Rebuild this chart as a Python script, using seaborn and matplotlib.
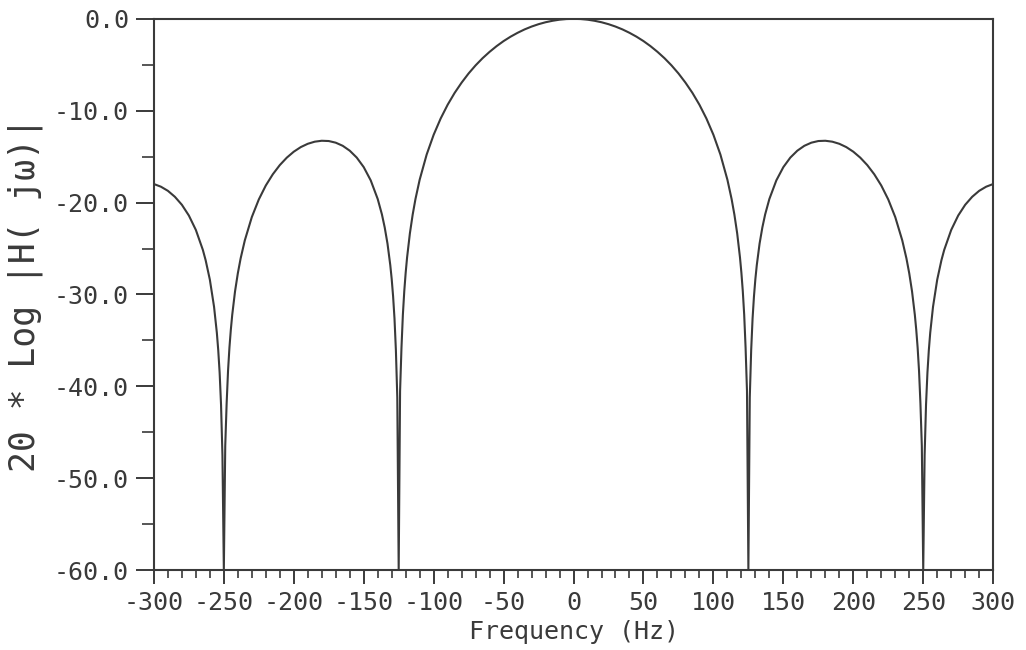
import numpy as np
import pandas as pd
import seaborn as sns
import matplotlib
matplotlib.use("Agg")
import matplotlib.pyplot as plt
from matplotlib.ticker import MultipleLocator, StrMethodFormatter

# magnitude response (positive half, Hz / dB); floor of the plot is -60 dB
freq_pos = [0, 5, 10, 15, 20, 25, 30, 35, 40, 45, 50, 55, 60, 65, 70, 75, 80, 85, 90, 95,
            100, 105, 110, 113, 115, 117, 119, 120, 121, 122, 123, 124, 125, 126, 127, 128,
            129, 130, 131, 133, 135, 137, 140, 145, 150, 155, 160, 165, 170, 175, 180, 185,
            190, 195, 200, 205, 210, 215, 220, 225, 230, 235, 238, 240, 242, 244, 245, 246,
            247, 248, 249, 250, 251, 252, 253, 254, 255, 257, 260, 263, 265, 270, 275, 280,
            285, 290, 295, 300]
db_pos = [0.0, -0.02, -0.09, -0.21, -0.37, -0.58, -0.84, -1.15, -1.52, -1.94, -2.42, -2.97,
          -3.59, -4.28, -5.06, -5.94, -6.94, -8.06, -9.35, -10.85, -12.62, -14.77, -17.51,
          -19.61, -21.31, -23.36, -25.98, -27.63, -29.63, -32.19, -35.78, -40.5, -60.0,
          -41.2, -36.06, -32.61, -30.19, -28.32, -26.82, -24.47, -22.70, -21.28, -19.61,
          -17.58, -16.14, -15.10, -14.35, -13.82, -13.48, -13.30, -13.27, -13.37, -13.60,
          -13.96, -14.46, -15.11, -15.92, -16.92, -18.14, -19.66, -21.58, -24.11, -26.08,
          -27.70, -29.67, -32.22, -33.83, -35.79, -38.32, -41.87, -46.5, -60.0, -47.5,
          -42.01, -38.53, -36.07, -34.17, -31.34, -28.39, -26.28, -25.15, -22.98, -21.41,
          -20.24, -19.37, -18.72, -18.27, -17.98]

# the negative half is the mirror image of the positive half
freq = [-f for f in freq_pos[:0:-1]] + freq_pos
db = db_pos[:0:-1] + db_pos
df = pd.DataFrame({"freq": freq, "db": db})

ink = "#3a3a3a"
sns.set_style("ticks")
plt.rcParams["font.family"] = ["DejaVu Sans Mono", "DejaVu Sans"]
plt.rcParams["axes.unicode_minus"] = False

fig = plt.figure(figsize=(10.26, 6.5), dpi=100)
ax = fig.add_axes([0.150, 0.123, 0.818, 0.848])

sns.lineplot(data=df, x="freq", y="db", ax=ax, color=ink, linewidth=1.5, sort=False)

ax.set_xlim(-300, 300)
ax.set_ylim(-60, 0)
ax.xaxis.set_major_locator(MultipleLocator(50))
ax.xaxis.set_minor_locator(MultipleLocator(10))
ax.yaxis.set_major_locator(MultipleLocator(10))
ax.yaxis.set_minor_locator(MultipleLocator(5))
ax.yaxis.set_major_formatter(StrMethodFormatter("{x:.1f}"))

ax.tick_params(axis="both", which="major", direction="out", color=ink, width=1.4,
               labelsize=18, labelcolor=ink, pad=5)
ax.tick_params(axis="x", which="major", length=10)
ax.tick_params(axis="x", which="minor", length=6, width=1.2, color=ink)
ax.tick_params(axis="y", which="major", length=13)
ax.tick_params(axis="y", which="minor", length=9, width=1.2, color=ink)

for s in ax.spines.values():
    s.set_visible(True)
    s.set_color(ink)
    s.set_linewidth(1.5)

ax.set_xlabel("Frequency (Hz)", fontsize=18, color=ink, labelpad=4)
ax.set_ylabel("20 * Log |H( jω)|", fontsize=25, color=ink, labelpad=8)

fig.savefig("out.png", dpi=100, facecolor="white")
